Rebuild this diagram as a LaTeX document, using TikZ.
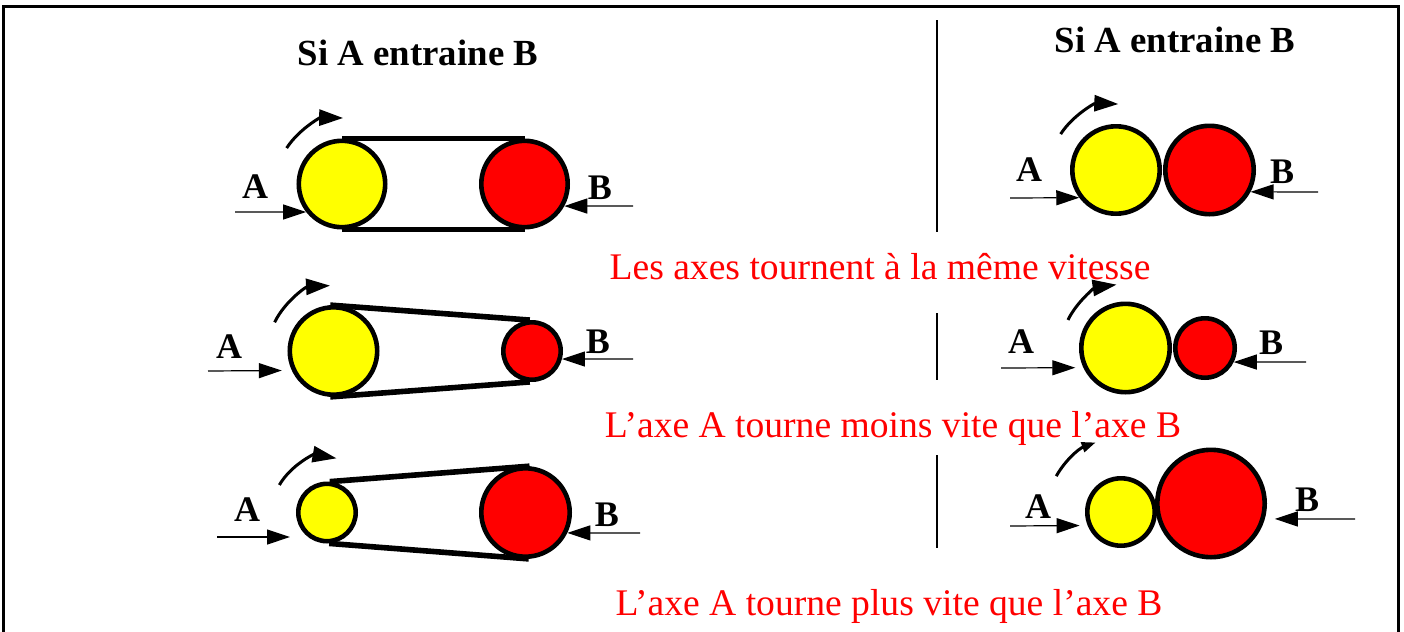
\documentclass[tikz,border=0pt]{standalone}
\usepackage{fontspec}
\setmainfont{Liberation Serif}
\usetikzlibrary{arrows.meta}
\definecolor{wheelA}{RGB}{255,255,0}
\definecolor{wheelB}{RGB}{255,0,0}

\begin{document}
\begin{tikzpicture}[x=0.5pt,y=0.5pt,
  pulley/.style={circle,draw=black,line width=2.3pt,inner sep=0pt},
  belt/.style={line width=2.8pt},
  shaft/.style={line width=0.6pt,-{Triangle[length=11.5pt,width=7.5pt]}},
  spin/.style={line width=1.5pt,-{Triangle[length=12pt,width=8pt]}},
  lab/.style={font=\fontsize{18}{20}\selectfont\bfseries,anchor=base,inner sep=0pt},
  heading/.style={font=\fontsize{18.4}{22}\selectfont\bfseries,anchor=base,inner sep=0pt},
  note/.style={font=\fontsize{18.8}{22}\selectfont,text=red,anchor=base,inner sep=0pt},
  divider/.style={line width=1pt}]
\useasboundingbox (0,0) rectangle (1404,-632);

% open frame
\draw[line width=1.5pt] (3,-632) -- (3,-6.5) -- (1398.5,-6.5) -- (1398.5,-632);

% vertical dividers
\draw[divider] (937,-20) -- (937,-232);
\draw[divider] (937,-313) -- (937,-380);
\draw[divider] (937,-455) -- (937,-548);

% headings
\node[heading] (h1) at (418,-65) {Si A entraine B};
\node[heading] (h2) at (1175,-52) {Si A entraine B};

% ---------- row 1 : same size ----------
\node[pulley,fill=wheelA,minimum size=43.2pt] (L1a) at (342,-184) {};
\node[pulley,fill=wheelB,minimum size=43.2pt] (L1b) at (524.5,-184) {};
\draw[belt] (L1a.north) -- (L1b.north);
\draw[belt] (L1a.south) -- (L1b.south);
\draw[spin] (L1a) ++(147:66) arc[start angle=147,end angle=89,radius=66];
\coordinate (tA1) at (235,-212);
\coordinate (tB1) at (633,-206);
\draw[shaft] (tA1) -- (L1a.218);
\draw[shaft] (tB1) -- (L1b.-29);
\node[lab] (A1) at (255,-198) {A};
\node[lab] (B1) at (600,-199) {B};

\node[pulley,fill=wheelA,minimum size=43.7pt] (R1a) at (1116,-170) {};
\node[pulley,fill=wheelB,minimum size=44.2pt] (R1b) at (1209.5,-170) {};
\draw[spin] (R1a) ++(147:66) arc[start angle=147,end angle=88,radius=66];
\coordinate (uA1) at (1010,-198);
\coordinate (uB1) at (1318,-192);
\draw[shaft] (uA1) -- (R1a.217.5);
\draw[shaft] (uB1) -- (R1b.-28);
\node[lab] (C1) at (1029,-181) {A};
\node[lab] (D1) at (1282,-183) {B};

\node[note] (n1) at (880,-279) {Les axes tournent à la même vitesse};

% ---------- row 2 : B smaller ----------
\node[pulley,fill=wheelA,minimum size=43.7pt] (L2a) at (333.5,-351) {};
\node[pulley,fill=wheelB,minimum size=28.7pt] (L2b) at (532,-351) {};
\draw[belt] (L2a.94) -- (L2b.94);
\draw[belt] (L2a.266) -- (L2b.266);
\draw[spin] (L2a) ++(154:65.5) arc[start angle=154,end angle=93,radius=65.5];
\coordinate (tA2) at (208,-371);
\coordinate (tB2) at (633,-359);
\draw[shaft,shorten >=5pt] (tA2) -- (L2a.205.8);
\draw[shaft] (tB2) -- (L2b.-15);
\node[lab] (A2) at (229,-358) {A};
\node[lab] (B2) at (598,-353) {B};

\node[pulley,fill=wheelA,minimum size=44.2pt] (R2a) at (1125.5,-348) {};
\node[pulley,fill=wheelB,minimum size=29.7pt] (R2b) at (1205,-348) {};
\draw[spin] (R2a) ++(154:64) arc[start angle=154,end angle=98,radius=64];
\coordinate (uA2) at (1001,-368);
\coordinate (uB2) at (1306,-362);
\draw[shaft,shorten >=4pt] (uA2) -- (R2a.205.5);
\draw[shaft] (uB2) -- (R2b.-26);
\node[lab] (C2) at (1021,-353) {A};
\node[lab] (D2) at (1271,-354) {B};

\node[note] (n2) at (893,-437) {L’axe A tourne moins vite que l’axe B};

% ---------- row 3 : A smaller ----------
\node[pulley,fill=wheelA,minimum size=28.7pt] (L3a) at (327,-512.5) {};
\node[pulley,fill=wheelB,minimum size=44.2pt] (L3b) at (525.5,-512.5) {};
\draw[belt] (L3a.85.5) -- (L3b.85.5);
\draw[belt] (L3a.274.5) -- (L3b.274.5);
\draw[spin] (L3a) ++(150:55) arc[start angle=150,end angle=80,radius=55];
\coordinate (tA3) at (217,-537);
\coordinate (tB3) at (640,-533);
\draw[shaft,shorten >=3pt] (tA3) -- (tA3 -| L3a.west);
\draw[shaft] (tB3) -- (L3b.-26);
\node[lab] (A3) at (247,-521) {A};
\node[lab] (B3) at (607,-526) {B};

\node[pulley,fill=wheelA,minimum size=33.7pt] (R3a) at (1121,-512) {};
\node[pulley,fill=wheelB,minimum size=53.7pt] (R3b) at (1211,-503.5) {};
\draw[line width=1.5pt,-{Triangle[length=7pt,width=5pt]}] (R3a) ++(151:74) arc[start angle=151,end angle=110,radius=74];
\coordinate (uA3) at (1010,-526);
\coordinate (uB3) at (1355,-519);
\draw[shaft,shorten >=4pt] (uA3) -- (R3a.202.9);
\draw[shaft,shorten >=5pt] (uB3) -- (R3b.-16);
\node[lab] (C3) at (1038,-518) {A};
\node[lab] (D3) at (1307,-511) {B};

\node[note] (n3) at (889,-615) {L’axe A tourne plus vite que l’axe B};
\end{tikzpicture}
\end{document}
